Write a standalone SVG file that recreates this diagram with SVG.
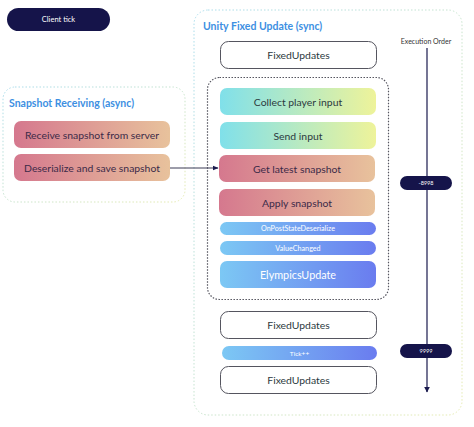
<svg xmlns="http://www.w3.org/2000/svg" width="474" height="427" viewBox="0 0 474 427">
<defs>
<linearGradient id="gPink" x1="0" y1="0" x2="1" y2="0"><stop offset="0" stop-color="#d5788e"/><stop offset="1" stop-color="#e8c29c"/></linearGradient>
<linearGradient id="gCyan" x1="0" y1="0" x2="1" y2="0"><stop offset="0" stop-color="#80e0ea"/><stop offset="1" stop-color="#eef39a"/></linearGradient>
<linearGradient id="gBlue" x1="0" y1="0" x2="1" y2="0"><stop offset="0" stop-color="#7cc8f4"/><stop offset="1" stop-color="#6a7cef"/></linearGradient>
<linearGradient id="gFrame" x1="0" y1="0" x2="1" y2="1"><stop offset="0" stop-color="#a9dcec"/><stop offset="1" stop-color="#e6ebb0"/></linearGradient>
<marker id="arr" viewBox="0 0 10 10" refX="9" refY="5" markerWidth="6" markerHeight="6" orient="auto"><path d="M0,1 L10,5 L0,9 z" fill="#1a1a4e"/></marker>
<marker id="arr2" viewBox="0 0 10 10" refX="9" refY="5" markerWidth="5" markerHeight="5" orient="auto"><path d="M0,0 L10,5 L0,10 z" fill="#1a1a4e"/></marker>
</defs>
<style>
text{font-family:Lato,"Noto Sans","Liberation Sans",sans-serif;text-anchor:middle;dominant-baseline:central}
.frame{fill:none;stroke:url(#gFrame);stroke-width:1;stroke-dasharray:1.5 2}
.title{fill:#3d8fe2;font-weight:bold;font-size:10.5px;text-anchor:start}
.pink{fill:url(#gPink)}
.cyan{fill:url(#gCyan)}
.blue{fill:url(#gBlue)}
.dark{fill:#3c2a48;font-size:10.4px}
.dark2{fill:#2c3a40;font-size:10.4px}
.wht{fill:#ffffff}
.fu{fill:#fff;stroke:#55555f;stroke-width:1}
.navy{fill:#15144a}
</style>
<g id="client-tick"><rect x="7" y="8" width="103" height="23" rx="11.5" class="navy"/><text x="58.5" y="19.5" class="wht" font-size="7.5">Client tick</text></g>
<g id="snapshot-receiving"><rect x="3" y="87" width="182" height="115" rx="12" class="frame"/><text x="9" y="103" class="title">Snapshot Receiving (async)</text></g>
<g id="receive-snapshot"><rect x="14" y="121" width="156" height="27" rx="7" class="pink"/><text x="92" y="134.5" class="dark">Receive snapshot from server</text></g>
<g id="deserialize"><rect x="14" y="154" width="156" height="27" rx="7" class="pink"/><text x="92" y="167.5" class="dark">Deserialize and save snapshot</text></g>
<g id="unity-fixed-update"><rect x="194" y="10" width="268" height="405" rx="14" class="frame"/><text x="203" y="26" class="title">Unity Fixed Update (sync)</text></g>
<g id="fixed-updates-1"><rect x="220.5" y="41.5" width="156" height="27" rx="8" class="fu"/><text x="298.5" y="55" class="dark2" fill="#333">FixedUpdates</text></g>
<g id="elympics-block"><rect x="207.5" y="77.5" width="181" height="222" rx="12" fill="none" stroke="#55555f" stroke-width="1.2" stroke-dasharray="1.5 1.5"/></g>
<g id="collect-input"><rect x="220" y="88" width="156" height="27" rx="7" class="cyan"/><text x="298" y="101.5" class="dark2">Collect player input</text></g>
<g id="send-input"><rect x="220" y="122" width="156" height="27" rx="7" class="cyan"/><text x="298" y="135.5" class="dark2">Send input</text></g>
<g id="get-latest"><rect x="219" y="155" width="156" height="27" rx="7" class="pink"/><text x="297" y="168.5" class="dark">Get latest snapshot</text></g>
<g id="apply-snapshot"><rect x="219" y="189" width="156" height="27" rx="7" class="pink"/><text x="297" y="202.5" class="dark">Apply snapshot</text></g>
<g id="on-post-state"><rect x="220" y="222" width="156" height="13" rx="6.5" class="blue"/><text x="298" y="228.5" class="wht" font-size="7.2">OnPostStateDeserialize</text></g>
<g id="value-changed"><rect x="220" y="241" width="156" height="14" rx="7" class="blue"/><text x="298" y="248" class="wht" font-size="7.2">ValueChanged</text></g>
<g id="elympics-update"><rect x="220" y="261" width="156" height="27" rx="7" class="blue"/><text x="298" y="274.5" class="wht" font-size="10.8">ElympicsUpdate</text></g>
<g id="fixed-updates-2"><rect x="220.5" y="311.5" width="156" height="27" rx="8" class="fu"/><text x="298.5" y="325" class="dark2" fill="#333">FixedUpdates</text></g>
<g id="tick"><rect x="222" y="346" width="155" height="14" rx="7" class="blue"/><text x="299.5" y="353" class="wht" font-size="6.5">Tick++</text></g>
<g id="fixed-updates-3"><rect x="220.5" y="366.5" width="156" height="27" rx="8" class="fu"/><text x="298.5" y="380" class="dark2" fill="#333">FixedUpdates</text></g>
<g id="execution-order"><text x="426" y="41" font-size="7" fill="#333">Execution Order</text></g>
<g id="connectors">
<line x1="170" y1="168" x2="218" y2="168" stroke="#3a3a55" stroke-width="1" marker-end="url(#arr)"/>
<line x1="427" y1="48" x2="427" y2="392" stroke="#1a1a4e" stroke-width="1.2" marker-end="url(#arr2)"/>
</g>
<g id="badge-8998"><rect x="400" y="176" width="52" height="14" rx="7" class="navy"/><text x="426" y="183" class="wht" font-size="5.5">-8998</text></g>
<g id="badge-9999"><rect x="400" y="344" width="52" height="14" rx="7" class="navy"/><text x="426" y="351" class="wht" font-size="5.5">9999</text></g>
</svg>
